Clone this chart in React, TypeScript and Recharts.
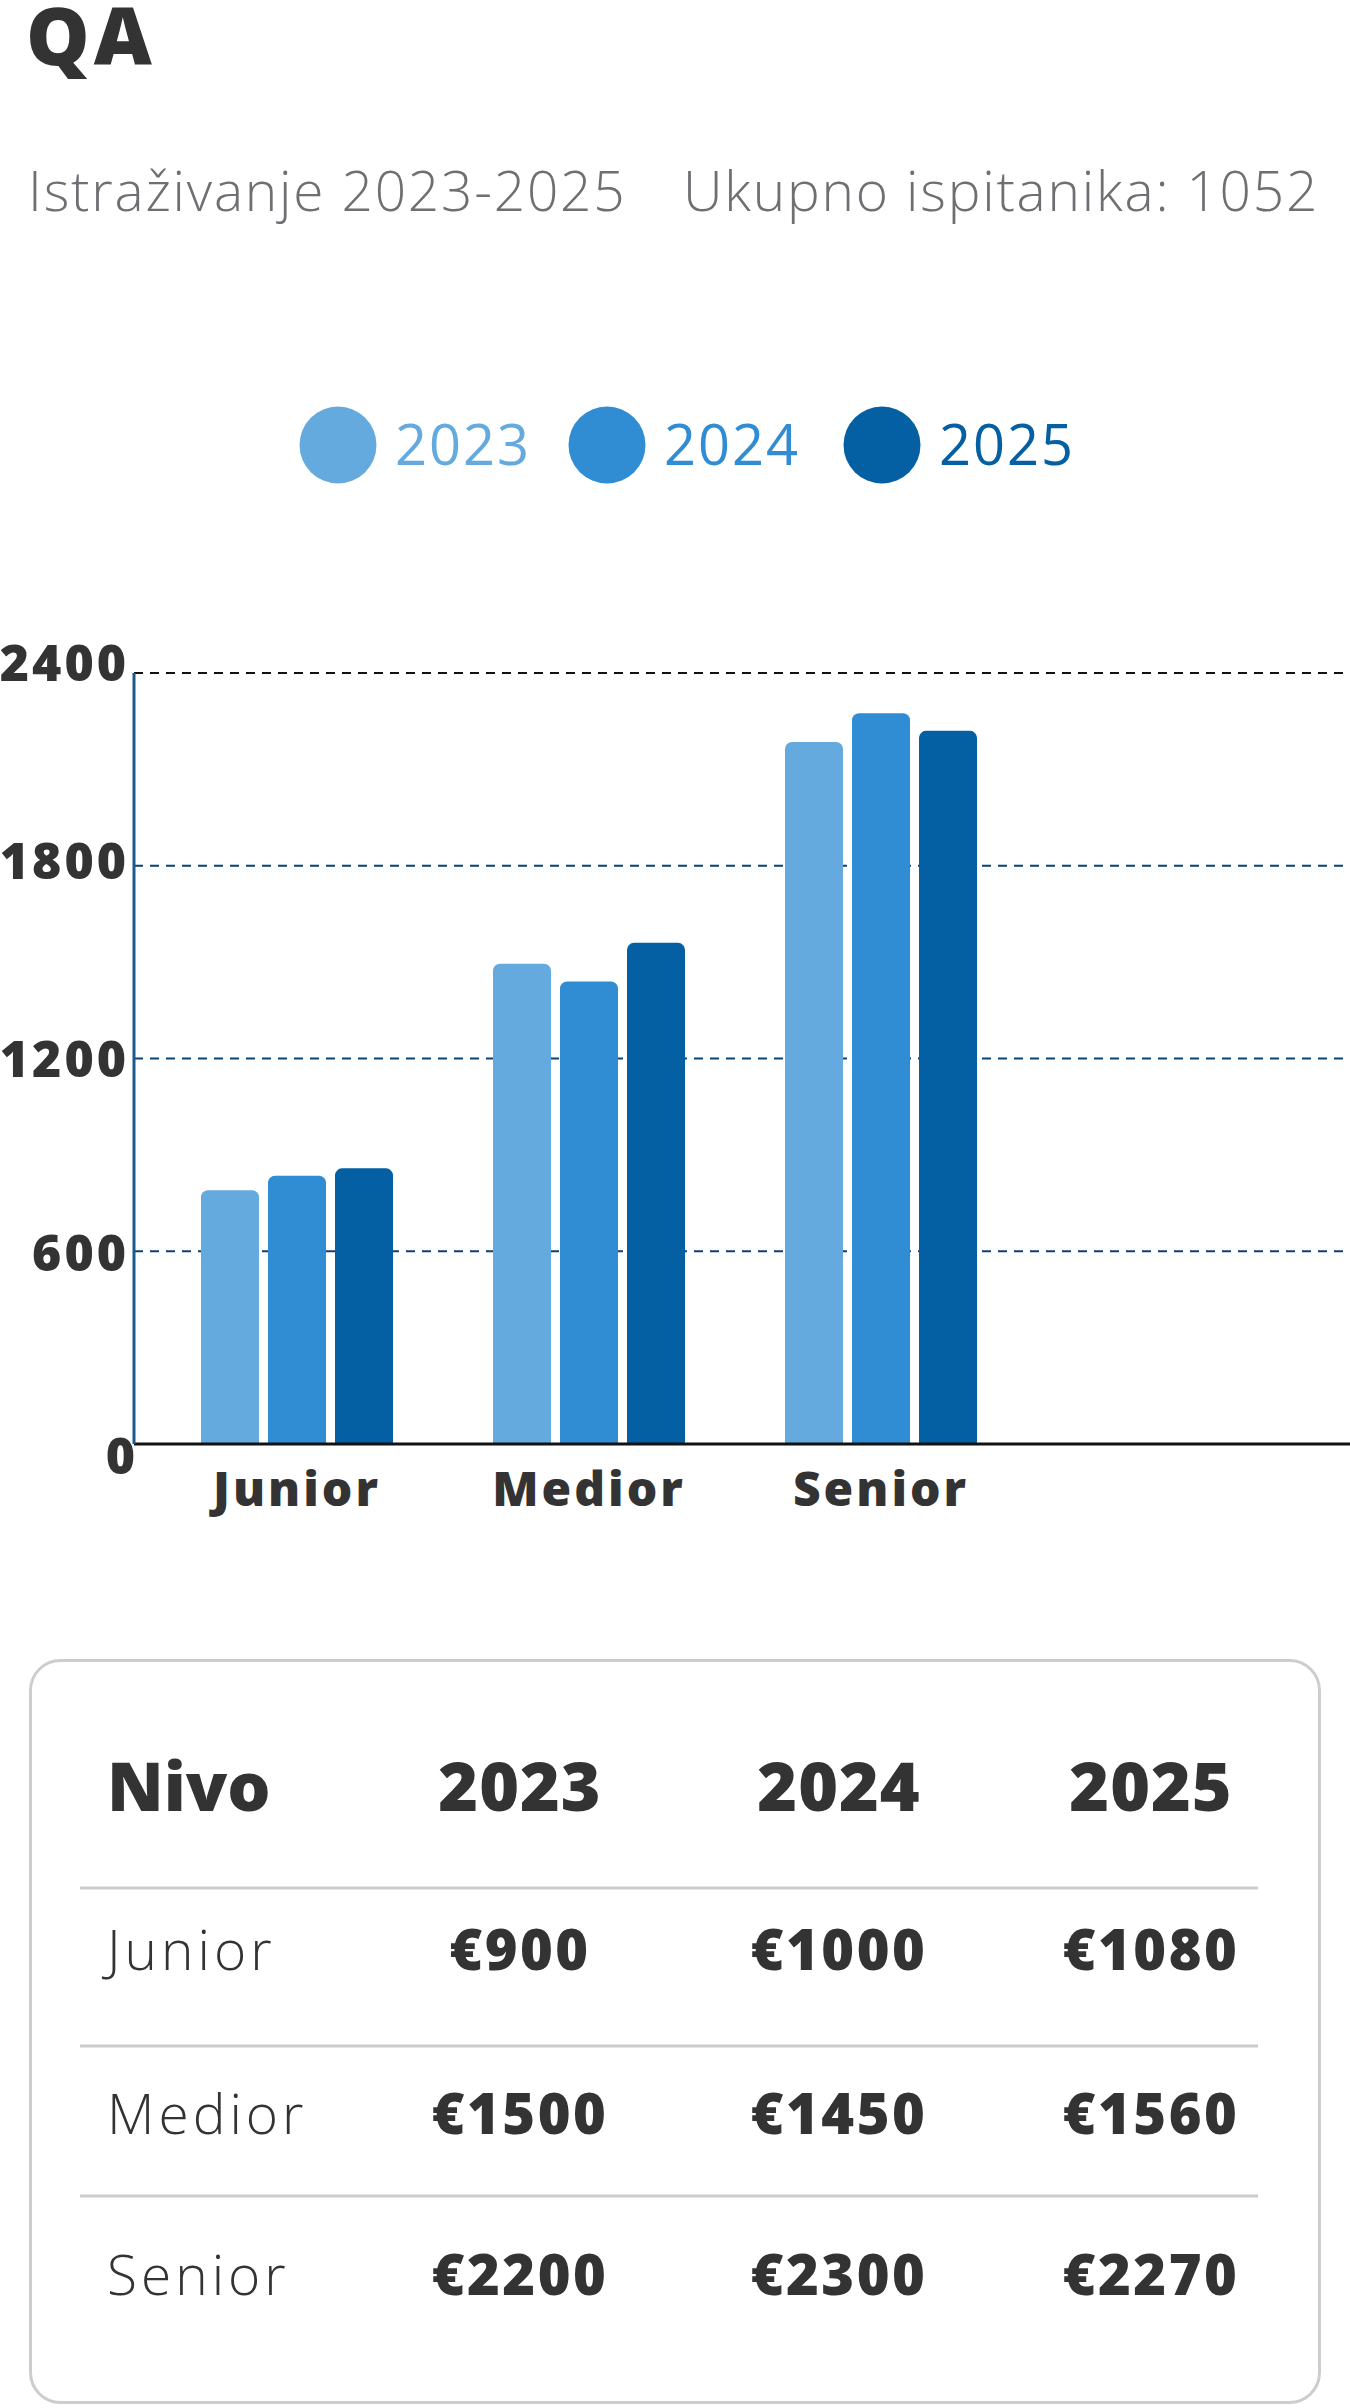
import { Bar, BarChart, CartesianGrid, ReferenceLine, XAxis, YAxis } from "recharts";

const FONT = "'Open Sans', 'Noto Sans', sans-serif";
const DARK = "#333333";
const GREY = "#6e6e73";

// chart bars
const levels = ["Junior", "Medior", "Senior"];
const years = ["2023", "2024", "2025"];
const salary2023 = [790, 1495, 2185];
const salary2024 = [835, 1440, 2275];
const salary2025 = [858, 1560, 2220];
const yTicks = [0, 600, 1200, 1800, 2400];

// summary table below the chart
const table2023 = [900, 1500, 2200];
const table2024 = [1000, 1450, 2300];
const table2025 = [1080, 1560, 2270];

const colors = ["#64aadf", "#318dd3", "#0460a3"];

const chartData = levels.map((level, i) => ({
  level,
  y2023: salary2023[i],
  y2024: salary2024[i],
  y2025: salary2025[i],
}));

const tableRows = levels.map((level, i) => ({
  level,
  values: [table2023[i], table2024[i], table2025[i]],
}));

const legendX = [338, 607, 882];
const tableColX = [520, 839, 1151];
const rowBaselines = [1970, 2134, 2295];
const dividerY = [1888, 2046, 2196];

const yLabelShift: Record<number, number> = { 0: 12, 600: 2, 1200: 0, 1800: -5, 2400: -10 };

function YTick({ y, payload }: { y: number; payload: { value: number } }) {
  const v = payload.value;
  return (
    <text
      x={v === 0 ? 138 : 129}
      y={y + (yLabelShift[v] ?? 0) + 18}
      textAnchor="end"
      fontFamily={FONT}
      fontWeight={800}
      fontSize={50}
      letterSpacing={3}
      fill={DARK}
    >
      {v}
    </text>
  );
}

function XTick({ x, y, payload }: { x: number; y: number; payload: { value: string } }) {
  return (
    <text
      x={x}
      y={y + 62}
      textAnchor="middle"
      fontFamily={FONT}
      fontWeight={800}
      fontSize={48}
      letterSpacing={3}
      fill={DARK}
    >
      {payload.value}
    </text>
  );
}

export default function App() {
  return (
    <div style={{ position: "absolute", left: 0, top: 0, width: 1350, height: 2408, background: "#fff" }}>
      <svg width={1350} height={2408} style={{ position: "absolute", left: 0, top: 0 }} fontFamily={FONT}>
        <text x={26} y={65} fontSize={80} fontWeight={800} fill={DARK} letterSpacing={4}>
          QA
        </text>
        <text x={28} y={211} fontSize={55} fontWeight={300} fill={GREY} letterSpacing={1.8}>
          Istraživanje 2023-2025
        </text>
        <text x={683} y={211} fontSize={55} fontWeight={300} fill={GREY} letterSpacing={1.8}>
          Ukupno ispitanika: 1052
        </text>

        {years.map((year, i) => (
          <g key={year}>
            <circle cx={legendX[i]} cy={445} r={38.5} fill={colors[i]} />
            <text x={legendX[i] + 57} y={465} fontSize={56} fontWeight={400} fill={colors[i]} letterSpacing={2}>
              {year}
            </text>
          </g>
        ))}

        <rect x={30.5} y={1660.5} width={1289} height={742} rx={30} fill="none" stroke="#cdcdcd" strokeWidth={3} />
        <text x={107} y={1811} fontSize={68} fontWeight={800} fill={DARK}>
          Nivo
        </text>
        {years.map((year, i) => (
          <text key={year} x={tableColX[i]} y={1811} fontSize={68} fontWeight={800} fill={DARK} textAnchor="middle" letterSpacing={1}>
            {year}
          </text>
        ))}
        {dividerY.map((y) => (
          <line key={y} x1={80} x2={1258} y1={y} y2={y} stroke="#cccccc" strokeWidth={3} />
        ))}
        {tableRows.map((row, r) => (
          <g key={row.level}>
            <text x={107} y={rowBaselines[r]} fontSize={55} fontWeight={300} fill={DARK} letterSpacing={4}>
              {row.level}
            </text>
            {row.values.map((v, c) => (
              <text
                key={c}
                x={tableColX[c]}
                y={rowBaselines[r]}
                fontSize={56}
                fontWeight={800}
                fill={DARK}
                textAnchor="middle"
                letterSpacing={2.5}
              >
                {"€" + v}
              </text>
            ))}
          </g>
        ))}
      </svg>

      <div style={{ position: "absolute", left: 0, top: 600 }}>
        <BarChart
          width={1350}
          height={944}
          data={chartData}
          margin={{ top: 73, right: 0, bottom: 0, left: 0 }}
          barGap={9}
          barSize={58}
        >
          <CartesianGrid vertical={false} stroke="#0b4277" strokeWidth={2} strokeDasharray="9 7" />
          <ReferenceLine y={2400} stroke="#111111" strokeWidth={2} strokeDasharray="9 7" />
          <XAxis
            dataKey="level"
            axisLine={{ stroke: "#111111", strokeWidth: 3 }}
            tickLine={false}
            tickSize={0}
            tickMargin={0}
            height={100}
            interval={0}
            padding={{ left: 17, right: 323 }}
            tick={(p: any) => <XTick {...p} />}
          />
          <YAxis
            domain={[0, 2400]}
            ticks={yTicks}
            interval={0}
            width={134}
            axisLine={{ stroke: "#1d5a8c", strokeWidth: 3 }}
            tickLine={false}
            tick={(p: any) => <YTick {...p} />}
          />
          <Bar dataKey="y2023" fill={colors[0]} radius={[7, 7, 0, 0]} isAnimationActive={false} />
          <Bar dataKey="y2024" fill={colors[1]} radius={[7, 7, 0, 0]} isAnimationActive={false} />
          <Bar dataKey="y2025" fill={colors[2]} radius={[7, 7, 0, 0]} isAnimationActive={false} />
        </BarChart>
      </div>
    </div>
  );
}
